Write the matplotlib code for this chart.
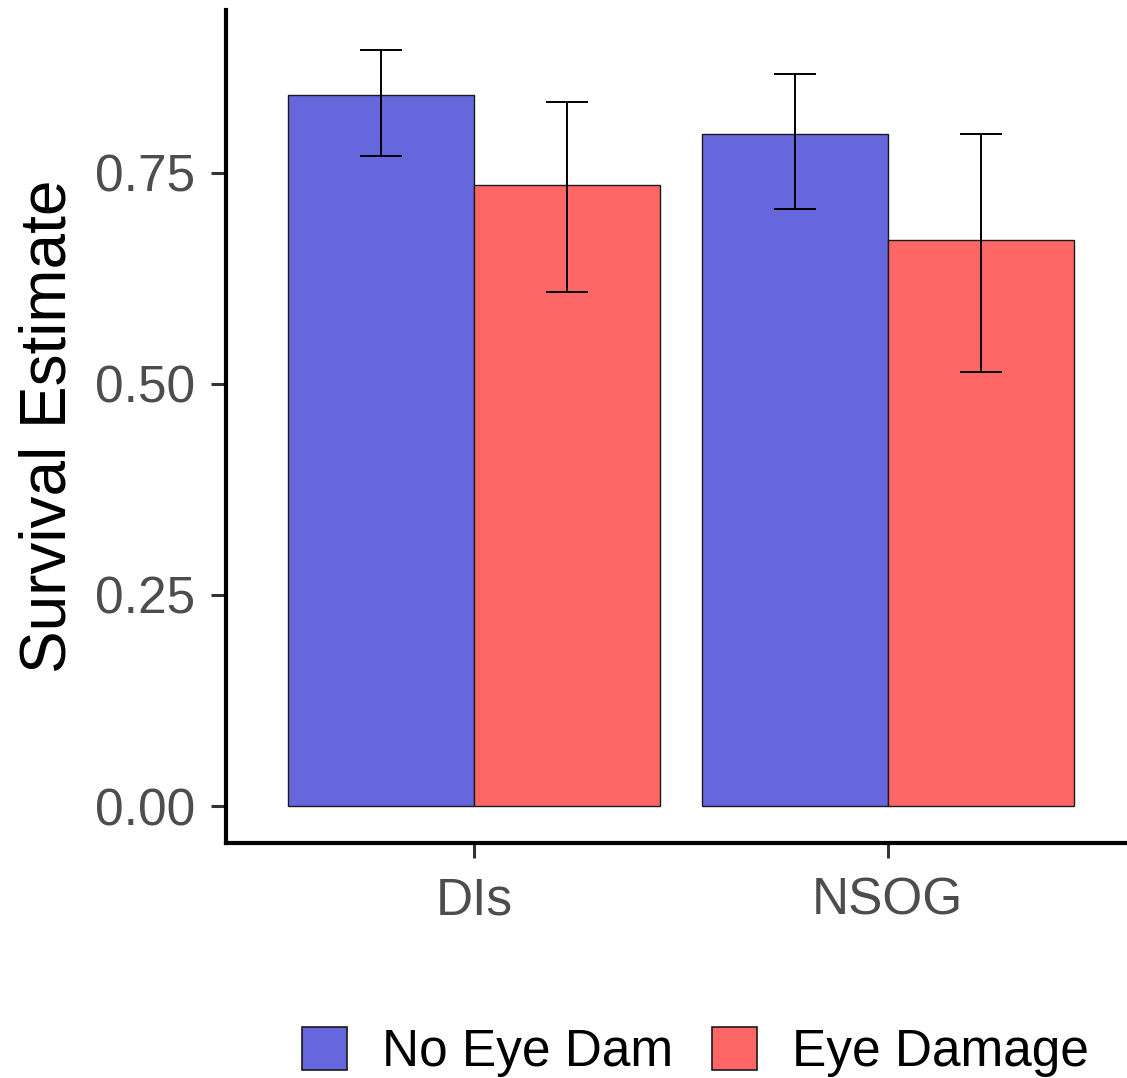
import matplotlib.pyplot as plt
import numpy as np
from matplotlib.patches import Patch

plt.rcParams["font.family"] = ["Liberation Sans", "DejaVu Sans"]

# survival estimates per site, split by eye damage status
sites = ["DIs", "NSOG"]
groups = ["No Eye Dam", "Eye Damage"]
estimate = {
    "No Eye Dam": [0.842, 0.796],
    "Eye Damage": [0.736, 0.671],
}
lower_ci = {
    "No Eye Dam": [0.770, 0.707],
    "Eye Damage": [0.609, 0.514],
}
upper_ci = {
    "No Eye Dam": [0.896, 0.867],
    "Eye Damage": [0.834, 0.796],
}
colors = {"No Eye Dam": "#6666DD", "Eye Damage": "#FF6666"}
yticks = [0.00, 0.25, 0.50, 0.75]

W, H = 1127, 1078
fig = plt.figure(figsize=(W / 100, H / 100), dpi=100)
ax = fig.add_axes([226 / W, 1 - 843 / H, (1136 - 226) / W, (843 - 10) / H])

x = np.arange(1, len(sites) + 1)
dodge = 0.9
bw = dodge / len(groups)
for i, g in enumerate(groups):
    xs = x - dodge / 2 + bw * (i + 0.5)
    est = np.array(estimate[g])
    lo = np.array(lower_ci[g])
    hi = np.array(upper_ci[g])
    ax.bar(xs, est, width=bw, color=colors[g], edgecolor="#1a1a1a",
           linewidth=1.0, zorder=2)
    ax.errorbar(xs, est, yerr=[est - lo, hi - est], fmt="none",
                ecolor="black", elinewidth=1.4, capsize=14.8,
                capthick=1.4, zorder=3)

ax.set_xlim(0.4, 2.6)
ax.set_ylim(-0.0438, 0.943)
ax.set_xticks(x)
ax.set_xticklabels(sites)
ax.set_yticks(yticks)
ax.set_yticklabels([f"{v:.2f}" for v in yticks])
ax.set_ylabel("Survival Estimate", fontsize=46, labelpad=12)
ax.tick_params(axis="both", labelsize=37, labelcolor="#4D4D4D",
               color="#333333", width=2.2, length=11)
ax.tick_params(axis="y", pad=11)
ax.tick_params(axis="x", pad=13)

for side in ("top", "right"):
    ax.spines[side].set_visible(False)
for side in ("left", "bottom"):
    ax.spines[side].set_linewidth(3)
    ax.spines[side].set_color("black")

handles = [Patch(facecolor=colors[g], edgecolor="#1a1a1a", linewidth=1.2)
           for g in groups]
fig.legend(handles, groups, loc="center", bbox_to_anchor=(0.617, 0.024),
           ncol=2, frameon=False, fontsize=37, handlelength=0.88,
           handleheight=0.91, handletextpad=0.68, columnspacing=0.76)

fig.savefig("out.png", dpi=100)
